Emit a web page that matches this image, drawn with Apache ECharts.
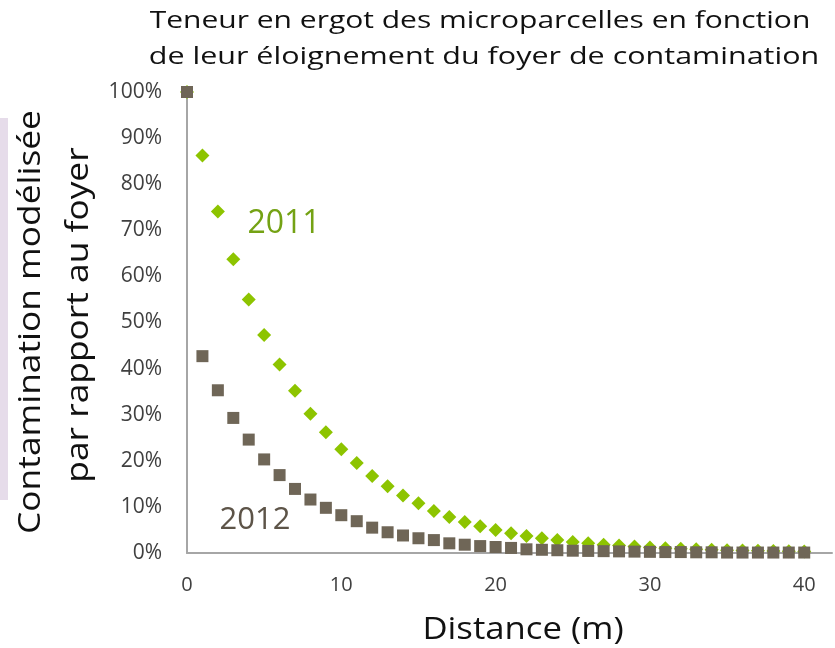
<!DOCTYPE html>
<html>
<head>
<meta charset="utf-8">
<script src="https://cdn.jsdelivr.net/npm/echarts@6/dist/echarts.min.js"></script>
<style>
html,body{margin:0;padding:0;background:#fff;}
#chart{width:835px;height:648px;}
</style>
</head>
<body>
<div id="chart"></div>
<script>
// Distance (m)
var distances = [0,1,2,3,4,5,6,7,8,9,10,11,12,13,14,15,16,17,18,19,20,21,22,23,24,25,26,27,28,29,30,31,32,33,34,35,36,37,38,39,40];
// Contamination (%) 2011
var values2011 = [100,86.2,74.1,63.7,55.0,47.3,40.9,35.2,30.2,26.2,22.5,19.5,16.7,14.5,12.5,10.8,9.1,7.8,6.7,5.8,5.0,4.3,3.7,3.2,2.8,2.4,2.1,1.8,1.6,1.4,1.2,1.05,0.9,0.8,0.7,0.6,0.55,0.5,0.45,0.4,0.35];
// Contamination (%) 2012
var values2012 = [100,42.7,35.3,29.3,24.6,20.3,16.9,13.9,11.6,9.8,8.2,6.9,5.5,4.5,3.8,3.2,2.8,2.1,1.8,1.5,1.3,1.1,0.8,0.7,0.6,0.5,0.45,0.4,0.35,0.3,0.25,0.2,0.2,0.15,0.15,0.1,0.1,0.1,0.1,0.1,0.1];
var xTickLabels = ['0','10','20','30','40'];
var titleLines = ['Teneur en ergot des microparcelles en fonction', 'de leur éloignement du foyer de contamination'];
var yTitleLines = ['Contamination modélisée', 'par rapport au foyer'];
var xTitle = 'Distance (m)';
var seriesNames = ['2011', '2012'];

var FONT = '"Open Sans", sans-serif';
var chart = echarts.init(document.getElementById('chart'), null, {renderer: 'canvas'});

function pairs(vals) {
  return distances.map(function (d, i) { return [d, vals[i] / 100]; });
}

var option = {
  backgroundColor: '#ffffff',
  animation: false,
  textStyle: {fontFamily: FONT},
  grid: {left: 187, right: 0, top: 92, bottom: 95, containLabel: false},
  xAxis: {
    type: 'value', min: 0, max: 41.8, interval: 10,
    axisLine: {show: true, lineStyle: {color: '#a6a6a6', width: 2}},
    axisTick: {show: false},
    splitLine: {show: false},
    axisLabel: {
      fontFamily: FONT, fontSize: 20, color: '#404040', margin: 22,
      formatter: function (v) { var i = xTickLabels.indexOf(String(v)); return i >= 0 ? xTickLabels[i] : ''; }
    }
  },
  yAxis: {
    type: 'value', min: 0, max: 1, interval: 0.1,
    axisLine: {show: true, lineStyle: {color: '#a6a6a6', width: 2}},
    axisTick: {show: false},
    splitLine: {show: false},
    axisLabel: {
      fontFamily: FONT, fontSize: 21, color: '#404040', margin: 25,
      formatter: function (v) { return Math.round(v * 100) + '%'; }
    }
  },
  series: [
    {
      name: seriesNames[0], type: 'scatter', symbol: 'diamond', symbolSize: [14, 14],
      itemStyle: {color: '#8dc400', opacity: 1}, data: pairs(values2011), z: 2
    },
    {
      name: seriesNames[1], type: 'scatter', symbol: 'rect', symbolSize: [12, 12],
      itemStyle: {color: '#6f6657', opacity: 1}, data: pairs(values2012), z: 3
    }
  ],
  graphic: [
    {type: 'rect', left: 0, top: 118, shape: {width: 8, height: 382}, style: {fill: '#e6dcea'}, silent: true},
    {type: 'text', x: 480, y: 21, scaleX: 1.25, style: {text: titleLines[0], font: '24px ' + FONT, fill: '#111', align: 'center', verticalAlign: 'middle'}},
    {type: 'text', x: 484, y: 57, scaleX: 1.27, style: {text: titleLines[1], font: '24px ' + FONT, fill: '#111', align: 'center', verticalAlign: 'middle'}},
    {type: 'text', x: 31, y: 322, rotation: Math.PI / 2, scaleX: 1.14, style: {text: yTitleLines[0], font: '31px ' + FONT, fill: '#111', align: 'center', verticalAlign: 'middle'}},
    {type: 'text', x: 79, y: 315, rotation: Math.PI / 2, scaleX: 1.14, style: {text: yTitleLines[1], font: '31px ' + FONT, fill: '#111', align: 'center', verticalAlign: 'middle'}},
    {type: 'text', x: 523, y: 630, scaleX: 1.12, style: {text: xTitle, font: '31px ' + FONT, fill: '#111', align: 'center', verticalAlign: 'middle'}},
    {type: 'text', x: 284, y: 224, style: {text: seriesNames[0], font: '32px ' + FONT, fill: '#74a214', align: 'center', verticalAlign: 'middle'}},
    {type: 'text', x: 255, y: 520, style: {text: seriesNames[1], font: '31px ' + FONT, fill: '#5d5448', align: 'center', verticalAlign: 'middle'}}
  ]
};
chart.setOption(option);
</script>
</body>
</html>
